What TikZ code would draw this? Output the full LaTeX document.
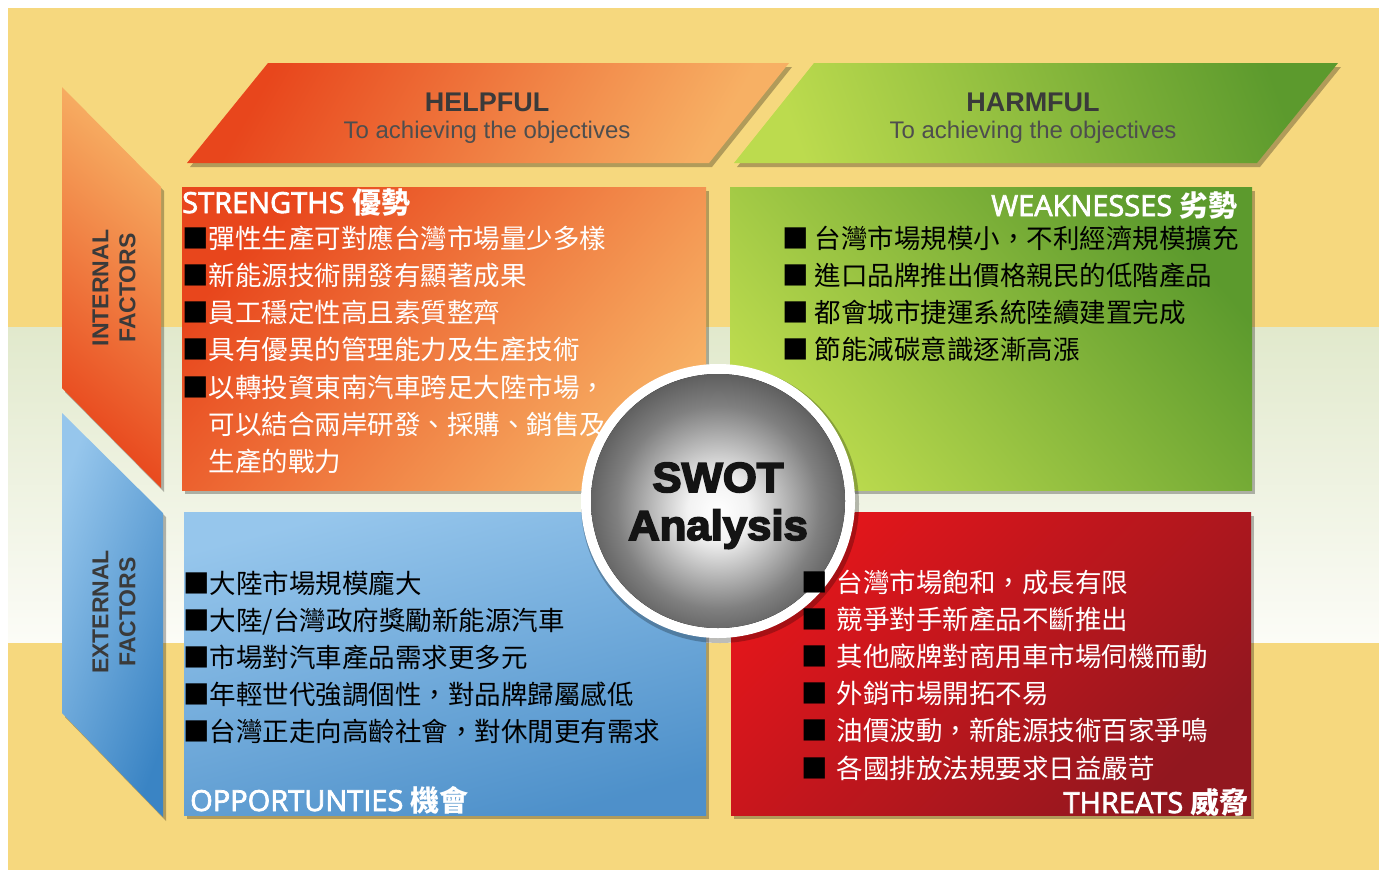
\documentclass[tikz,border=0pt]{standalone}
\usepackage{fontspec}
\setmainfont{Liberation Sans}
\newfontfamily\cjk{Noto Sans CJK TC}
\newfontfamily\headfont[FakeBold=2.5]{Open Sans}
\newfontfamily\ballfont[BoldFeatures={FakeBold=4,FakeStretch=1.04}]{Liberation Sans}

% palette
\definecolor{bgyellow}{HTML}{F6D87E}
\definecolor{bandtop}{HTML}{E1E9CC}
\definecolor{bandbot}{HTML}{FCFCF7}
\definecolor{orgdark}{HTML}{E8461C}
\definecolor{orglight}{HTML}{F7B064}
\definecolor{grndark}{HTML}{5C9A2D}
\definecolor{grnlight}{HTML}{BCDB4E}
\definecolor{bludark}{HTML}{3A84C4}
\definecolor{blulight}{HTML}{96C6EC}
\definecolor{redbright}{HTML}{E3161B}
\definecolor{reddark}{HTML}{92171F}
\definecolor{headtext}{HTML}{3A3A3A}

% ball shading for the centre disc
\pgfdeclareradialshading{swotball}{\pgfpoint{0bp}{-2bp}}{%
  color(0bp)=(white); color(6bp)=(white!95!black); color(20bp)=(black!50);
  color(34bp)=(black!80); color(50bp)=(black!90)}

\newcommand\swotbullet{\textcolor{black}{■}}

\tikzset{
  softshadow/.style={fill=black, fill opacity=0.28, xshift=3pt, yshift=-4pt},
  item/.style={anchor=west, inner sep=0pt,
    font=\cjk\fontsize{26.5}{30}\selectfont, text height=23.3pt, text depth=3.2pt},
  quadtitle/.style={inner sep=0pt, text=white,
    font=\headfont\fontsize{29}{34}\selectfont},
  headtitle/.style={anchor=base, inner sep=0pt, text=headtext,
    font=\bfseries\fontsize{27}{32}\selectfont},
  headsub/.style={anchor=base, inner sep=0pt, text=headtext!90,
    font=\fontsize{24}{28}\selectfont},
  sidelabel/.style={rotate=90, align=center, inner sep=0pt, text=headtext,
    font=\bfseries\fontsize{23}{27}\selectfont},
  balltext/.style={anchor=base, inner sep=0pt, text=black!92,
    font=\ballfont\bfseries\fontsize{42}{48}\selectfont}
}

\begin{document}
\begin{tikzpicture}[x=1pt,y=-1pt]
\useasboundingbox (0,0) rectangle (1379,870);

% page background with the pale middle band
\fill[white] (0,0) rectangle (1379,870);
\fill[bgyellow] (8,8) rectangle (1379,870);
\shade[top color=bandtop, bottom color=bandbot] (8,327) rectangle (1379,642);

% column headers
\fill[softshadow] (268,63) -- (789,63) -- (709,163) -- (187,163) -- cycle;
\shade[top color=orgdark, bottom color=orglight, shading angle=60]
  (268,63) -- (789,63) -- (709,163) -- (187,163) -- cycle;
\fill[softshadow] (814,63) -- (1338,63) -- (1257,163) -- (734,163) -- cycle;
\shade[top color=grndark, bottom color=grnlight, shading angle=-70]
  (814,63) -- (1338,63) -- (1257,163) -- (734,163) -- cycle;

\node[headtitle] (helpful) at (487,111) {HELPFUL};
\node[headsub] (helpsub) at (487,138) {To achieving the objectives};
\node[headtitle] (harmful) at (1033,111) {HARMFUL};
\node[headsub] (harmsub) at (1033,138) {To achieving the objectives};

% row headers
\fill[softshadow] (62,87) -- (161,187) -- (161,488) -- (62,388) -- cycle;
\shade[top color=orglight, bottom color=orgdark, shading angle=-40]
  (62,87) -- (161,187) -- (161,488) -- (62,388) -- cycle;
\fill[softshadow] (62,413) -- (163,513) -- (163,817) -- (62,713) -- cycle;
\shade[top color=blulight, bottom color=bludark, shading angle=70]
  (62,413) -- (163,513) -- (163,817) -- (62,713) -- cycle;

\node[sidelabel] (internal) at (114,288) {INTERNAL\\FACTORS};
\node[sidelabel] (external) at (114,612) {EXTERNAL\\FACTORS};

% the four quadrants
\fill[softshadow] (182,187) rectangle (706,490);
\shade[top color=orgdark, bottom color=orglight, shading angle=50]
  (182,187) rectangle (706,490);
\fill[softshadow] (730,187) rectangle (1252,490);
\shade[top color=grndark, bottom color=grnlight, shading angle=-50]
  (730,187) rectangle (1252,490);
\fill[softshadow] (184,512) rectangle (706,815);
\shade[top color=blulight, bottom color=bludark!90, shading angle=15]
  (184,512) rectangle (706,815);
\fill[softshadow] (731,512) rectangle (1251,815);
\shade[top color=redbright, bottom color=reddark, shading angle=45]
  (731,512) rectangle (1251,815);

% quadrant titles
\node[quadtitle, anchor=base west] (strengths) at (182,213)
  {STRENGTHS {\cjk\bfseries 優勢}};
\node[quadtitle, anchor=base east] (weaknesses) at (1238,216)
  {WEAKNESSES {\cjk\bfseries 劣勢}};
\node[quadtitle, anchor=base west] (opportunities) at (190,811)
  {OPPORTUNTIES {\cjk\bfseries 機會}};
\node[quadtitle, anchor=base east] (threats) at (1249,813)
  {THREATS {\cjk\bfseries 威脅}};

% strengths
\foreach \t [count=\i] in {\swotbullet{}彈性生產可對應台灣市場量少多樣,
    \swotbullet{}新能源技術開發有顯著成果,
    \swotbullet{}員工穩定性高且素質整齊,
    \swotbullet{}具有優異的管理能力及生產技術,
    \swotbullet{}以轉投資東南汽車跨足大陸市場，,
    \hphantom{■}可以結合兩岸研發、採購、銷售及,
    \hphantom{■}生產的戰力}
  \node[item, text=white] (s\i) at (182,{238+37.3*(\i-1)}) {\t};

% weaknesses
\foreach \t [count=\i] in {台灣市場規模小，不利經濟規模擴充,
    進口品牌推出價格親民的低階產品,
    都會城市捷運系統陸續建置完成,
    節能減碳意識逐漸高漲}
  \node[item, text=black] (w\i) at (782,{238+37.3*(\i-1)}) {\swotbullet\hspace{6pt}\t};

% opportunities
\foreach \t [count=\i] in {大陸市場規模龐大,
    大陸/台灣政府獎勵新能源汽車,
    市場對汽車產品需求更多元,
    年輕世代強調個性，對品牌歸屬感低,
    台灣正走向高齡社會，對休閒更有需求}
  \node[item, text=black] (o\i) at (183,{583+37.2*(\i-1)}) {\swotbullet{}\t};

% centre disc
\fill[black, fill opacity=0.25] (720,504) circle (139);
\fill[white] (718,501) circle (137);
\fill[shading=swotball] (718,501) circle (127);
\node[balltext] (swot) at (718,492) {SWOT};
\node[balltext] (analysis) at (718,540) {Analysis};

% threats
\foreach \t [count=\i] in {台灣市場飽和，成長有限,
    競爭對手新產品不斷推出,
    其他廠牌對商用車市場伺機而動,
    外銷市場開拓不易,
    油價波動，新能源技術百家爭鳴,
    各國排放法規要求日益嚴苛}
  \node[item, text=white] (t\i) at (801,{582+37.2*(\i-1)}) {\swotbullet\hspace{9pt}\t};

\end{tikzpicture}
\end{document}
